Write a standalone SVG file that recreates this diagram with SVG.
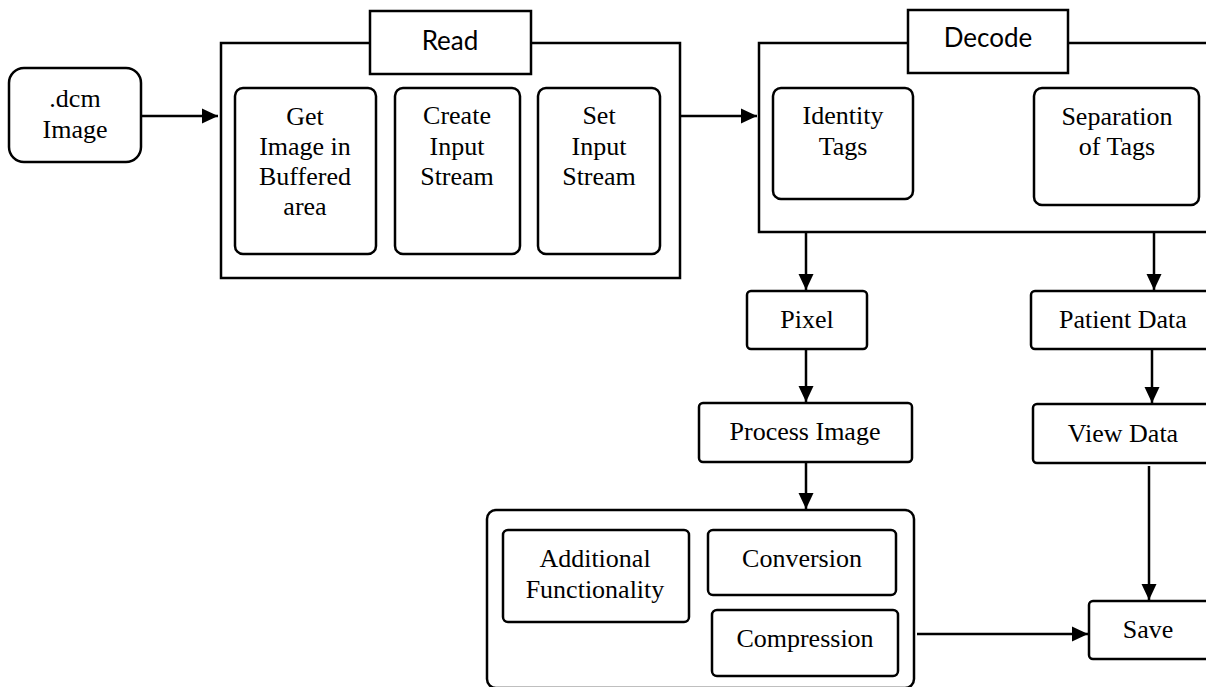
<svg xmlns="http://www.w3.org/2000/svg" width="1206" height="687" viewBox="0 0 1206 687">
<style>
.b{fill:#fff;stroke:#000;stroke-width:2.5}
.t{font-size:26px;text-anchor:middle;fill:#000}
.s{font-size:26px;text-anchor:middle;fill:#000}
.c{fill:none;stroke:#000;stroke-width:2.5}
</style>
<defs>
<marker id="ah" markerUnits="userSpaceOnUse" markerWidth="17" markerHeight="17" viewBox="0 0 17 17" refX="16" refY="8.5" orient="auto">
<path d="M0,1 L16,8.5 L0,16 Z" fill="#000"/>
</marker>
</defs>
<rect width="1206" height="687" fill="#fff"/>
<g id="connectors">
<line class="c" x1="141" y1="116" x2="218" y2="116" marker-end="url(#ah)"/>
<line class="c" x1="681" y1="116" x2="757" y2="116" marker-end="url(#ah)"/>
<line class="c" x1="806" y1="232" x2="806" y2="290" marker-end="url(#ah)"/>
<line class="c" x1="1154" y1="232" x2="1154" y2="290" marker-end="url(#ah)"/>
<line class="c" x1="806" y1="349" x2="806" y2="402" marker-end="url(#ah)"/>
<line class="c" x1="806" y1="462" x2="806" y2="509" marker-end="url(#ah)"/>
<line class="c" x1="1152" y1="346" x2="1152" y2="403" marker-end="url(#ah)"/>
<line class="c" x1="1149" y1="466" x2="1149" y2="600" marker-end="url(#ah)"/>
<line class="c" x1="917" y1="634" x2="1088" y2="634" marker-end="url(#ah)"/>
</g>
<g id="dcm">
<rect class="b" x="9" y="68" width="132" height="94" rx="15"/>
<text class="t" font-family="Liberation Serif, serif" x="75" y="107">.dcm</text>
<text class="t" font-family="Liberation Serif, serif" x="75" y="138">Image</text>
</g>
<g id="read">
<rect class="b" x="221" y="43" width="459" height="235"/>
<rect class="b" x="370" y="11" width="161" height="63"/>
<text class="s" font-family="Lato, sans-serif" x="450" y="50">Read</text>
</g>
<g id="get-image">
<rect class="b" x="235" y="88" width="141" height="166" rx="8"/>
<text class="t" font-family="Liberation Serif, serif" x="305" y="125">Get</text>
<text class="t" font-family="Liberation Serif, serif" x="305" y="155">Image in</text>
<text class="t" font-family="Liberation Serif, serif" x="305" y="185">Buffered</text>
<text class="t" font-family="Liberation Serif, serif" x="305" y="215">area</text>
</g>
<g id="create-input">
<rect class="b" x="395" y="88" width="125" height="166" rx="8"/>
<text class="t" font-family="Liberation Serif, serif" x="457" y="124">Create</text>
<text class="t" font-family="Liberation Serif, serif" x="457" y="155">Input</text>
<text class="t" font-family="Liberation Serif, serif" x="457" y="185">Stream</text>
</g>
<g id="set-input">
<rect class="b" x="538" y="88" width="122" height="166" rx="8"/>
<text class="t" font-family="Liberation Serif, serif" x="599" y="124">Set</text>
<text class="t" font-family="Liberation Serif, serif" x="599" y="155">Input</text>
<text class="t" font-family="Liberation Serif, serif" x="599" y="185">Stream</text>
</g>
<g id="decode">
<rect class="b" x="759" y="43" width="460" height="189"/>
<rect class="b" x="908" y="10" width="160" height="63"/>
<text class="s" font-family="Lato, sans-serif" x="988" y="47">Decode</text>
</g>
<g id="identity-tags">
<rect class="b" x="773" y="88" width="140" height="111" rx="8"/>
<text class="t" font-family="Liberation Serif, serif" x="843" y="124">Identity</text>
<text class="t" font-family="Liberation Serif, serif" x="843" y="155">Tags</text>
</g>
<g id="separation">
<rect class="b" x="1034" y="88" width="165" height="117" rx="8"/>
<text class="t" font-family="Liberation Serif, serif" x="1117" y="125">Separation</text>
<text class="t" font-family="Liberation Serif, serif" x="1117" y="155">of Tags</text>
</g>
<g id="pixel">
<rect class="b" x="747" y="291" width="120" height="58" rx="4"/>
<text class="t" font-family="Liberation Serif, serif" x="807" y="328">Pixel</text>
</g>
<g id="patient-data">
<rect class="b" x="1031" y="291" width="190" height="58" rx="4"/>
<text class="t" font-family="Liberation Serif, serif" x="1123" y="328">Patient Data</text>
</g>
<g id="process-image">
<rect class="b" x="699" y="403" width="213" height="59" rx="4"/>
<text class="t" font-family="Liberation Serif, serif" x="805" y="440">Process Image</text>
</g>
<g id="view-data">
<rect class="b" x="1033" y="404" width="190" height="59" rx="4"/>
<text class="t" font-family="Liberation Serif, serif" x="1123" y="442">View Data</text>
</g>
<g id="processing">
<rect class="b" x="487" y="510" width="427" height="178" rx="9"/>
</g>
<g id="additional">
<rect class="b" x="503" y="530" width="186" height="92" rx="5"/>
<text class="t" font-family="Liberation Serif, serif" x="595" y="567">Additional</text>
<text class="t" font-family="Liberation Serif, serif" x="595" y="598">Functionality</text>
</g>
<g id="conversion">
<rect class="b" x="708" y="530" width="188" height="65" rx="5"/>
<text class="t" font-family="Liberation Serif, serif" x="802" y="567">Conversion</text>
</g>
<g id="compression">
<rect class="b" x="712" y="610" width="186" height="66" rx="5"/>
<text class="t" font-family="Liberation Serif, serif" x="805" y="647">Compression</text>
</g>
<g id="save">
<rect class="b" x="1089" y="601" width="130" height="58" rx="4"/>
<text class="t" font-family="Liberation Serif, serif" x="1148" y="638">Save</text>
</g>
</svg>
